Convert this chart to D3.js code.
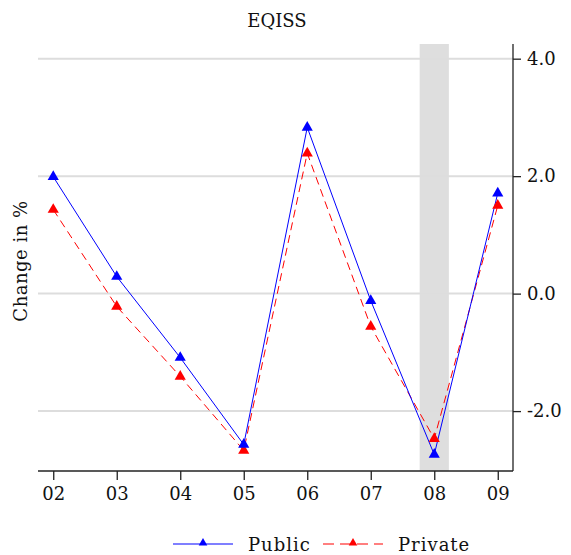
<!DOCTYPE html>
<html>
<head>
<meta charset="utf-8">
<script src="https://cdn.jsdelivr.net/npm/d3@7"></script>
<style>
  body { margin: 0; background: #fff; }
  svg text { font-family: "DejaVu Serif", serif; fill: #111; }
</style>
</head>
<body>
<div id="chart"></div>
<script>
// data
const years = ["02", "03", "04", "05", "06", "07", "08", "09"];
const publicVals = [1.99, 0.29, -1.09, -2.57, 2.83, -0.12, -2.74, 1.71];
const privateVals = [1.43, -0.22, -1.41, -2.67, 2.39, -0.56, -2.47, 1.5];
const yTicks = [4, 2, 0, -2];
const recession = ["08"];

const W = 571, H = 555;
const margin = { left: 38, right: 58, top: 44, bottom: 84 };
const width = W - margin.left - margin.right,
  height = H - margin.top - margin.bottom;
const fontSize = 18;

let svg = d3.select("#chart").append("svg")
  .attr("width", W).attr("height", H);

let g = svg.append("g")
  .attr("transform", "translate(" + margin.left + "," + margin.top + ")");

// scales
let xScale = d3.scaleLinear().domain([1.76, 9.24]).range([0, width]);
let yScale = d3.scaleLinear().domain([-3.02, 4.25]).range([height, 0]);
const xi = (i) => xScale(+years[i]);

// recession band
g.selectAll(".band")
  .data(recession)
  .enter()
  .append("rect")
  .attr("x", (d) => xScale(+d - 0.23))
  .attr("width", (d) => xScale(+d + 0.23) - xScale(+d - 0.23))
  .attr("y", 0)
  .attr("height", height)
  .attr("fill", "#dedede");

// gridlines
g.selectAll(".grid")
  .data(yTicks)
  .enter()
  .append("line")
  .attr("x1", 0).attr("x2", width)
  .attr("y1", (d) => yScale(d)).attr("y2", (d) => yScale(d))
  .attr("stroke", "#dddddd")
  .attr("stroke-width", 2);

// axes
let xAxis = g.append("g")
  .attr("transform", "translate(0," + height + ")")
  .call(d3.axisBottom(xScale)
    .tickValues(years.map(Number))
    .tickFormat((d) => (d < 10 ? "0" : "") + d)
    .tickSize(9).tickPadding(7).tickSizeOuter(0));

let yAxis = g.append("g")
  .attr("transform", "translate(" + width + ",0)")
  .call(d3.axisRight(yScale)
    .tickValues(yTicks)
    .tickFormat((d) => d3.format(".1f")(d).replace("\u2212", "-"))
    .tickSize(8).tickPadding(6).tickSizeOuter(0));

[xAxis, yAxis].forEach((a) => {
  a.attr("font-family", null).attr("font-size", null);
  a.select(".domain").attr("stroke", "#222").attr("stroke-width", 1.3);
  a.selectAll(".tick line").attr("stroke", "#222").attr("stroke-width", 1.3);
  a.selectAll("text").attr("font-size", fontSize);
});
xAxis.select(".domain").attr("d", "M0,0H" + width);
yAxis.select(".domain").attr("d", "M0,0V" + height);

// series
const series = [
  { name: "Public", vals: publicVals, color: "#0000ff", dash: null },
  { name: "Private", vals: privateVals, color: "#ff0000", dash: "8,5" }
];

const tri = d3.symbol().type(d3.symbolTriangle).size(54);

series.slice().reverse().forEach((s) => {
  let line = d3.line().x((d, i) => xi(i)).y((d) => yScale(d));
  g.append("path")
    .datum(s.vals)
    .attr("d", line)
    .attr("fill", "none")
    .attr("stroke", s.color)
    .attr("stroke-width", 1)
    .attr("stroke-dasharray", s.dash);
});
series.slice().reverse().forEach((s) => {
  g.selectAll(".m" + s.name)
    .data(s.vals)
    .enter()
    .append("path")
    .attr("d", tri)
    .attr("transform", (d, i) => "translate(" + xi(i) + "," + yScale(d) + ")")
    .attr("fill", s.color);
});

// title
svg.append("text")
  .attr("x", 277)
  .attr("y", 27)
  .attr("text-anchor", "middle")
  .attr("font-size", fontSize)
  .text("EQISS");

// y label
svg.append("text")
  .attr("transform", "translate(27,261) rotate(-90)")
  .attr("text-anchor", "middle")
  .attr("font-size", fontSize)
  .style("letter-spacing", "0.5px")
  .text("Change in %");

// legend
let legend = svg.append("g").attr("transform", "translate(173,544)");
series.forEach((s, k) => {
  let lg = legend.append("g").attr("transform", "translate(" + k * 150 + ",0)");
  lg.append("line")
    .attr("x1", 0).attr("x2", 60)
    .attr("y1", 0).attr("y2", 0)
    .attr("stroke", s.color)
    .attr("stroke-width", 1.2)
    .attr("stroke-dasharray", s.dash ? "11,6" : null);
  lg.append("path")
    .attr("d", d3.symbol().type(d3.symbolTriangle).size(32))
    .attr("transform", "translate(30,-1)")
    .attr("fill", s.color);
  lg.append("text")
    .attr("x", 75).attr("y", 7)
    .attr("font-size", fontSize)
    .style("letter-spacing", "1px")
    .text(s.name);
});
</script>
</body>
</html>
